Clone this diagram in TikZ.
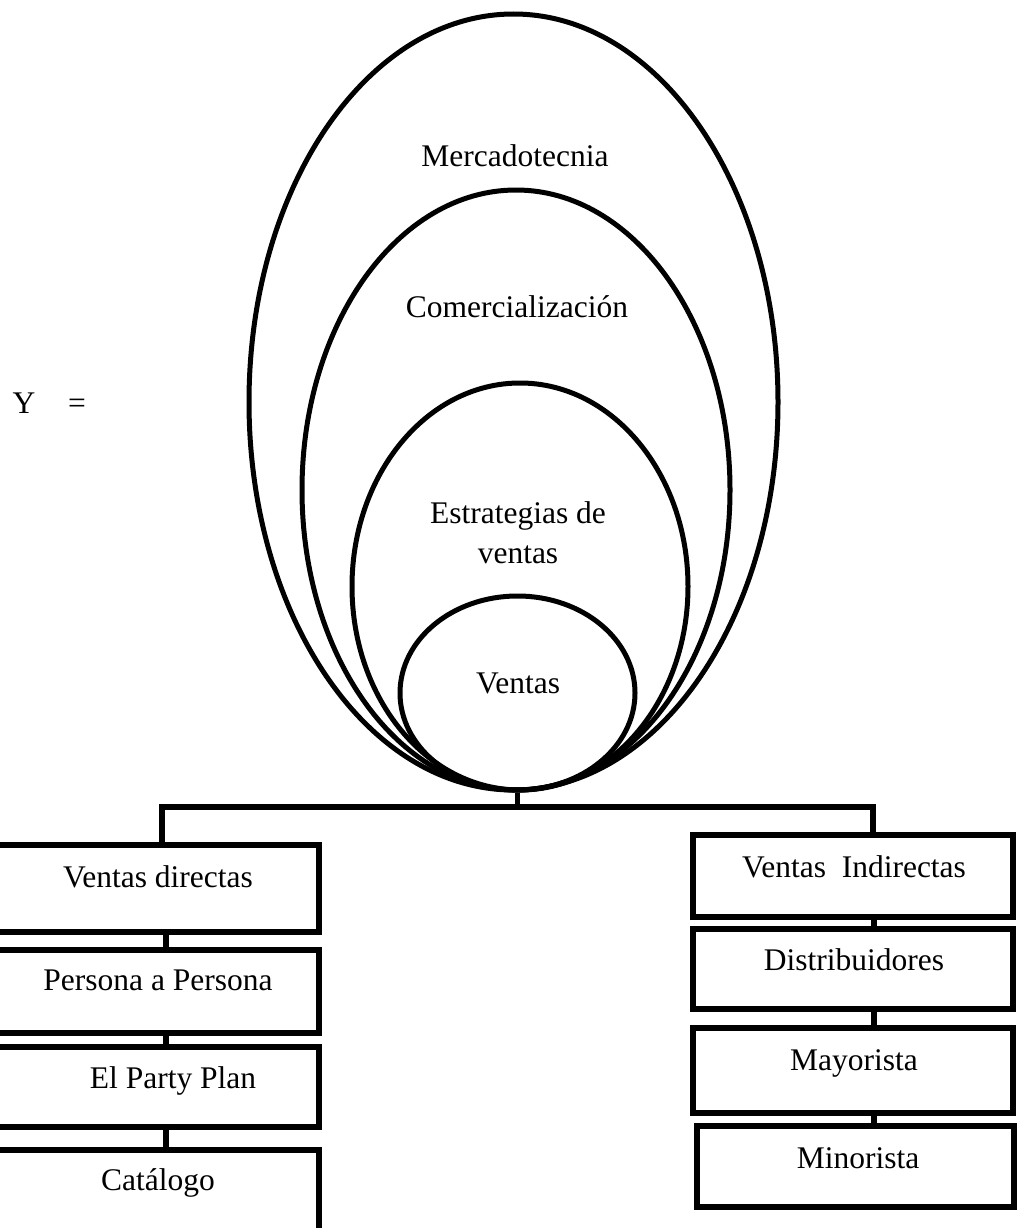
\documentclass[tikz,border=0pt]{standalone}
\usepackage{fontspec}
\setmainfont{Liberation Serif}
\usetikzlibrary{shapes.geometric}
\begin{document}
\begin{tikzpicture}[x=1pt,y=-1pt,
  lbl/.style={anchor=base,inner sep=0pt,font=\fontsize{31.5}{40}\selectfont},
  ring/.style={ellipse,draw,line width=5pt,inner sep=0pt},
  box/.style={rectangle,draw,line width=5.5pt,inner sep=0pt},
  conn/.style={line width=5.5pt}]
\useasboundingbox (0,0) rectangle (1017,1228);
\clip (0,0) rectangle (1017,1228);

% nested ellipses, all touching at the bottom
\node[ring,minimum width=529pt,minimum height=776pt] (mer) at (513.5,402) {};
\node[ring,minimum width=428pt,minimum height=600pt] (com) at (516,490) {};
\node[ring,minimum width=336pt,minimum height=407pt] (est) at (520,586.5) {};
\node[ring,minimum width=235pt,minimum height=194pt] (ven) at (517.5,693) {};

\node[lbl] (tmer) at (515,166) {Mercadotecnia};
\node[lbl] (tcom) at (517,317) {Comercialización};
\node[lbl] (test1) at (518,523) {Estrategias de};
\node[lbl] (test2) at (518,563) {ventas};
\node[lbl] (tven) at (518,693) {Ventas};

\node[lbl] (ty) at (24,413) {Y};
\node[lbl] (teq) at (77,413) {=};

% left column of boxes
\node[box,minimum width=328pt,minimum height=87pt] (l1) at (155,888.5) {};
\node[box,minimum width=328pt,minimum height=83pt] (l2) at (155,991.5) {};
\node[box,minimum width=328pt,minimum height=80pt] (l3) at (155,1087) {};
\node[box,minimum width=328pt,minimum height=90pt] (l4) at (155,1195) {};

\node[lbl] (tl1) at (158,887) {Ventas directas};
\node[lbl] (tl2) at (158,990) {Persona a Persona};
\node[lbl] (tl3) at (173,1088) {El Party Plan};
\node[lbl] (tl4) at (158,1190) {Catálogo};

% right column of boxes
\node[box,minimum width=320pt,minimum height=82pt] (r1) at (853,876) {};
\node[box,minimum width=320pt,minimum height=80pt] (r2) at (853,969) {};
\node[box,minimum width=320pt,minimum height=85pt] (r3) at (853,1070.5) {};
\node[box,minimum width=317pt,minimum height=81pt] (r4) at (855.5,1166.5) {};

\node[lbl] (tr1) at (854,877) {Ventas\ \ Indirectas};
\node[lbl] (tr2) at (854,970) {Distribuidores};
\node[lbl] (tr3) at (854,1070) {Mayorista};
\node[lbl] (tr4) at (858,1168) {Minorista};

% branching connector
\coordinate (bar) at (520,807);
\coordinate (lxa) at (162,0);
\coordinate (rxa) at (873,0);
\coordinate (lx) at (166,0);
\coordinate (rx) at (874,0);
\draw[conn] (ven.south) -- (ven.south |- bar);
\draw[conn] (l1.north -| lxa) -- (lxa |- bar) -- (rxa |- bar) -- (r1.north -| rxa);

\draw[conn] (l1.south -| lx) -- (l2.north -| lx);
\draw[conn] (l2.south -| lx) -- (l3.north -| lx);
\draw[conn] (l3.south -| lx) -- (l4.north -| lx);
\draw[conn] (r1.south -| rx) -- (r2.north -| rx);
\draw[conn] (r2.south -| rx) -- (r3.north -| rx);
\draw[conn] (r3.south -| rx) -- (r4.north -| rx);
\end{tikzpicture}
\end{document}
